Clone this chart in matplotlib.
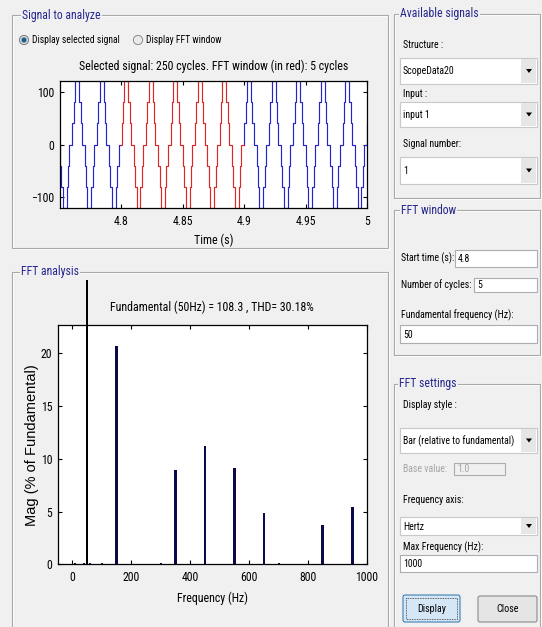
import numpy as np
import matplotlib
matplotlib.use("Agg")
import matplotlib.pyplot as plt
import matplotlib.font_manager as fm
from matplotlib.patches import Rectangle, Circle, Polygon, FancyBboxPatch
from matplotlib.transforms import Bbox, TransformedBbox

# ---------------- data ----------------
# one period (20 ms) of the stepped signal: switching instants (ms) and level after each step
cycle_step_ms = [1.2, 2.2, 3.4, 6.6, 7.8, 8.8, 11.2, 12.2, 13.4, 16.6, 17.8, 18.8]
cycle_levels = [40, 80, 120, 80, 40, 0, -40, -80, -120, -80, -40, 0]
cycle_offset_ms = -1.1
period_s = 0.02
first_cycle, last_cycle = 236, 252
fft_window = (4.8, 4.9)
time_xlim = (4.75, 5.0)
time_ticks = [4.8, 4.85, 4.9, 4.95, 5.0]
time_ticklabels = ["4.8", "4.85", "4.9", "4.95", "5"]
sig_yticks = [-100, 0, 100]
sig_ylim = (-120, 120)

fund_freq = 50
fund_mag = 100.0
harm_freq = [150, 350, 450, 550, 650, 850, 950]
harm_mag = [20.7, 8.95, 11.25, 9.15, 4.85, 3.75, 5.45]
small_freq = [0, 10, 40, 60, 100, 300, 700, 900]
small_mag = [0.25, 0.12, 0.12, 0.12, 0.10, 0.10, 0.10, 0.07]
freq_xlim = (-50, 1000)
freq_ticks = [0, 200, 400, 600, 800, 1000]
mag_ylim = (0, 22.7)
mag_ticks = [0, 5, 10, 15, 20]

sig_title = "Selected signal: 250 cycles. FFT window (in red): 5 cycles"
fft_title = "Fundamental (50Hz) = 108.3 , THD= 30.18%"

# ---------------- fonts ----------------
names = {f.name for f in fm.fontManager.ttflist}
NARROW = None
for cand in ["Liberation Sans Narrow", "Arial Narrow", "Roboto Condensed", "Open Sans Condensed"]:
    if cand in names:
        NARROW = dict(family=cand)
        break
if NARROW is None:
    if any(f.name == "DejaVu Sans" and f.stretch == "condensed" for f in fm.fontManager.ttflist):
        NARROW = dict(family="DejaVu Sans", stretch="condensed")
    else:
        NARROW = dict(family="Liberation Sans")
WIDE = dict(family="Liberation Sans")

PANEL_T = 8.5   # panel titles
LBL = 7.1       # gui labels
AXT = 8.6       # axes titles / labels
TCK = 8.5       # tick labels

BG = "#F0F0F0"
NAVY = "#25258E"
W, H = 542, 627

fig = plt.figure(figsize=(W / 100, H / 100), dpi=100, facecolor=BG)
gui = fig.add_axes([0, 0, 1, 1], zorder=0)
gui.set_xlim(0, W)
gui.set_ylim(H, 0)
gui.axis("off")


def px_axes(x0, y0, x1, y1, **kw):
    return fig.add_axes([x0 / W, 1 - y1 / H, (x1 - x0) / W, (y1 - y0) / H], **kw)


def frame(x0, y0, x1, y1, title, tx):
    gui.add_patch(Rectangle((x0 + 1, y0 + 1), x1 - x0, y1 - y0, fill=False, ec="white", lw=0.8))
    gui.add_patch(Rectangle((x0, y0), x1 - x0, y1 - y0, fill=False, ec="#A8A8A8", lw=0.8))
    gui.text(tx, y0, title, color=NAVY, va="center", ha="left", fontsize=PANEL_T,
             bbox=dict(fc=BG, ec="none", pad=0.8), **NARROW)


def label(x, y, s, color="black", size=LBL):
    gui.text(x, y, s, color=color, va="center", ha="left", fontsize=size, **NARROW)


def editbox(x0, y0, x1, y1, s, fc="white", tc="black"):
    gui.add_patch(Rectangle((x0, y0), x1 - x0, y1 - y0, fc=fc, ec="#ABADB3", lw=0.8))
    label(x0 + 3, (y0 + y1) / 2 + 0.5, s, color=tc)


def popup(x0, y0, x1, y1, s):
    gui.add_patch(Rectangle((x0, y0), x1 - x0, y1 - y0, fc="white", ec="#C8C8C8", lw=0.8))
    gui.add_patch(Rectangle((x1 - 16, y0 + 1), 15, y1 - y0 - 2, fc="#E6E6E6", ec="none"))
    cx, cy = x1 - 8, (y0 + y1) / 2
    gui.add_patch(Polygon([[cx - 3, cy - 2], [cx + 3, cy - 2], [cx, cy + 2]], closed=True,
                          fc="black", ec="none"))
    label(x0 + 3, cy + 0.5, s)


# panels
frame(12, 15, 388, 248, "Signal to analyze", 22)
frame(12, 272, 388, 660, "FFT analysis", 21)
frame(394, 14, 540, 198, "Available signals", 400)
frame(394, 210, 540, 355, "FFT window", 401)
frame(394, 384, 540, 660, "FFT settings", 399)

# radio buttons
gui.add_patch(Circle((24, 40), 4.6, fc="#DADADA", ec="#7A7A7A", lw=0.7))
gui.add_patch(Circle((24, 40), 2.6, fc="#1F5F8F", ec="none"))
gui.add_patch(Circle((138, 40), 4.6, fc="#EAEAEA", ec="#8A8A8A", lw=0.7))
label(32.5, 40, "Display selected signal", size=6.9)
label(146, 40, "Display FFT window", size=6.9)

# Available signals
label(403, 45, "Structure :")
popup(400, 58, 537, 84, "ScopeData20")
label(403, 94, "Input :")
popup(400, 102, 537, 127, "input 1")
label(403, 144, "Signal number:")
popup(400, 157, 537, 184, "1")

# FFT window
label(401, 258, "Start time (s):")
editbox(455, 250, 537, 267, "4.8")
label(401, 285, "Number of cycles:")
editbox(474, 278, 537, 292, "5")
label(401, 315, "Fundamental frequency (Hz):")
editbox(400, 325, 537, 343, "50")

# FFT settings
label(403, 405, "Display style :")
popup(400, 428, 537, 453, "Bar (relative to fundamental)")
label(403, 469, "Base value:", color="#A6A6A6")
editbox(454, 463, 505, 475, "1.0", fc=BG, tc="#A6A6A6")
label(403, 500, "Frequency axis:")
popup(400, 517, 537, 535, "Hertz")
label(403, 547, "Max Frequency (Hz):")
editbox(400, 555, 537, 572, "1000")

# buttons
gui.add_patch(FancyBboxPatch((403, 595), 57, 27, boxstyle="round,pad=0,rounding_size=2",
                             fc="#D5E7F6", ec="#3C7FB1", lw=0.8))
gui.add_patch(Rectangle((406, 598), 51, 21, fill=False, ec="#333333", lw=0.6, ls=(0, (1, 1))))
gui.text(431.5, 609, "Display", ha="center", va="center", fontsize=7.2, **NARROW)
gui.add_patch(FancyBboxPatch((478, 596), 59, 26, boxstyle="round,pad=0,rounding_size=2",
                             fc="#E5E5E5", ec="#8A8A8A", lw=0.8))
gui.text(507.5, 609, "Close", ha="center", va="center", fontsize=7.2, **NARROW)

# ---------------- signal axes ----------------
t_steps, y_steps = [first_cycle * period_s - 0.01], [0]
for k in range(first_cycle, last_cycle):
    for s, lv in zip(cycle_step_ms, cycle_levels):
        t_steps.append(k * period_s + (cycle_offset_ms + s) / 1000.0)
        y_steps.append(lv)
t_steps = np.array(t_steps)
y_steps = np.array(y_steps)


def level_at(t):
    return y_steps[np.searchsorted(t_steps, t, side="right") - 1]


def segment(t0, t1):
    sel = (t_steps > t0) & (t_steps < t1)
    tt = np.concatenate([[t0], t_steps[sel], [t1]])
    yy = np.concatenate([[level_at(t0)], y_steps[sel], [level_at(t1)]])
    return tt, yy


ax1 = px_axes(60, 81, 367, 208, zorder=2)
BLUE, RED = "#2424C8", "#DD2626"
for t0, t1 in [(t_steps[0], fft_window[0]), (fft_window[1], t_steps[-1])]:
    tt, yy = segment(t0, t1)
    ax1.plot(tt, yy, drawstyle="steps-post", color=BLUE, lw=0.85)
tt, yy = segment(*fft_window)
ax1.plot(tt, yy, drawstyle="steps-post", color=RED, lw=0.85)
ax1.set_xlim(*time_xlim)
ax1.set_ylim(*sig_ylim)
ax1.set_xticks(time_ticks)
ax1.set_xticklabels(time_ticklabels)
ax1.set_yticks(sig_yticks)
ax1.set_title(sig_title, fontsize=AXT, pad=8, **NARROW)
ax1.set_xlabel("Time (s)", fontsize=AXT, labelpad=4, **NARROW)

# ---------------- FFT axes ----------------
ax2 = px_axes(57.7, 325, 367, 564.3, zorder=2)
BARC = "#0A0A4A"
ax2.bar(harm_freq, harm_mag, width=9, color=BARC, linewidth=0)
ax2.bar(small_freq, small_mag, width=6, color=BARC, linewidth=0)
fb = ax2.bar([fund_freq], [fund_mag], width=4.5, color="black", linewidth=0)
clip = TransformedBbox(Bbox([[57.7 / W, 1 - 564.3 / H], [367 / W, 1 - 280 / H]]), fig.transFigure)
for p in fb:
    p.set_clip_box(clip)
ax2.set_xlim(*freq_xlim)
ax2.set_ylim(*mag_ylim)
ax2.set_xticks(freq_ticks)
ax2.set_yticks(mag_ticks)
ax2.set_title(fft_title, fontsize=AXT, pad=10, **NARROW)
ax2.set_xlabel("Frequency (Hz)", fontsize=AXT, labelpad=5, **NARROW)
ax2.set_ylabel("Mag (% of Fundamental)", fontsize=10.5, labelpad=1, **WIDE)

for ax in (ax1, ax2):
    ax.set_facecolor("white")
    for sp in ax.spines.values():
        sp.set_linewidth(0.9)
        sp.set_color("black")
    ax.tick_params(direction="in", length=3, width=0.8, top=True, right=True,
                   labelsize=TCK)
    ax.tick_params(axis="x", pad=5)
    ax.tick_params(axis="y", pad=4)
    for lab in ax.get_xticklabels() + ax.get_yticklabels():
        lab.set_fontfamily(NARROW["family"])
        if "stretch" in NARROW:
            lab.set_fontstretch(NARROW["stretch"])

fig.savefig("out.png", dpi=100, facecolor=BG)
